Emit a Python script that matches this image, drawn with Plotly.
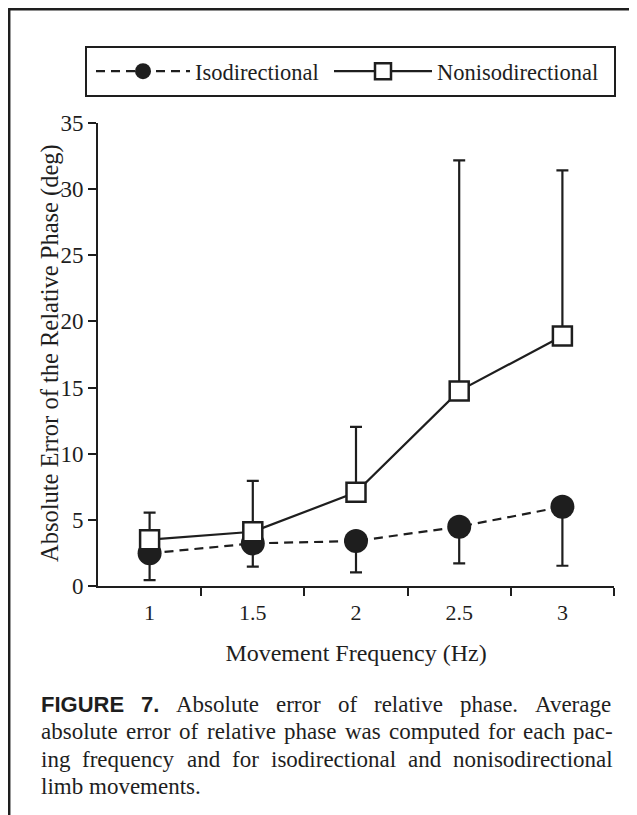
import plotly.graph_objects as go

# ---------------- data ----------------
freq = [1, 1.5, 2, 2.5, 3]
freq_labels = ["1", "1.5", "2", "2.5", "3"]
iso_mean = [2.47, 3.22, 3.40, 4.48, 5.99]
iso_err = [2.02, 1.76, 2.37, 2.77, 4.46]
noniso_mean = [3.50, 4.10, 7.08, 14.75, 18.90]
noniso_err = [2.04, 3.85, 4.95, 17.42, 12.52]
between_ticks = [1.25, 1.75, 2.25, 2.75, 3.25]
y_ticks = [0, 5, 10, 15, 20, 25, 30, 35]

x_title = "Movement Frequency (Hz)"
y_title = "Absolute Error of the Relative Phase (deg)"
caption_lines = [
    [("FIGURE", "b"), ("7.", "b"), ("Absolute", "r"), ("error", "r"), ("of", "r"),
     ("relative", "r"), ("phase.", "r"), ("Average", "r")],
    [(w, "r") for w in "absolute error of relative phase was computed for each pac-".split()],
    [(w, "r") for w in "ing frequency and for isodirectional and nonisodirectional".split()],
    [(w, "r") for w in "limb movements.".split()],
]

# ---------------- page geometry ----------------
# the html body has an 8px margin, so the figure is shifted by OFF on screen
OFF = 8
FW, FH = 637 - OFF, 815 - OFF
PLOT_L, PLOT_T, PLOT_R, PLOT_B = 98, 123, 614, 586     # screen coords of the plot area
L, T = PLOT_L - OFF, PLOT_T - OFF
R, B = FW - (PLOT_R - OFF), FH - (PLOT_B - OFF)
PW, PH = PLOT_R - PLOT_L, PLOT_B - PLOT_T
INK = "#1e1e1e"
SERIF = "Liberation Serif"
SANS = "Liberation Sans"


def px_x(sx):
    """screen x (px) -> paper x"""
    return (sx - PLOT_L) / PW


def px_y(sy):
    """screen y (px) -> paper y"""
    return 1 - (sy - PLOT_T) / PH


# glyph advance widths (per 1000 em) for justification of the caption
SERIF_W = {" ": 250, ".": 250, "-": 333, "A": 722, "a": 444, "b": 500, "c": 444, "d": 500,
           "e": 444, "f": 333, "g": 500, "h": 500, "i": 278, "l": 278, "m": 778, "n": 500,
           "o": 500, "p": 500, "q": 500, "r": 333, "s": 389, "t": 278, "u": 500, "v": 500,
           "w": 722, "y": 500}
SANSB_W = {" ": 278, ".": 278, "7": 556, "F": 611, "I": 278, "G": 778, "U": 722, "R": 722, "E": 667}

CAP_SIZE = 23
BOLD_SIZE = 22


def word_w(word, kind):
    if kind == "b":
        return sum(SANSB_W.get(ch, 556) for ch in word) * BOLD_SIZE / 1000.0
    return sum(SERIF_W.get(ch, 500) for ch in word) * CAP_SIZE / 1000.0


fig = go.Figure()

fig.add_trace(go.Scatter(
    x=freq, y=iso_mean, name="Isodirectional", mode="lines+markers", legend="legend",
    line=dict(color=INK, width=2.2, dash="9px,6px"),
    marker=dict(symbol="circle", size=24, color=INK, line=dict(width=0)),
    error_y=dict(type="data", symmetric=False, array=[0] * len(iso_err), arrayminus=iso_err,
                 color=INK, thickness=2.2, width=6),
))
fig.add_trace(go.Scatter(
    x=freq, y=noniso_mean, name="Nonisodirectional", mode="lines+markers", legend="legend2",
    line=dict(color=INK, width=2.2),
    marker=dict(symbol="square", size=19, color="white", line=dict(width=2.5, color=INK)),
    error_y=dict(type="data", symmetric=False, array=noniso_err, arrayminus=[0] * len(noniso_err),
                 color=INK, thickness=2.2, width=6),
))

annotations = []
CAP_LEFT, CAP_RIGHT = 41, 613
line_y = [704, 731.5, 759, 786.5]
for i, words in enumerate(caption_lines):
    widths = [word_w(w, k) for w, k in words]
    justify = i < len(caption_lines) - 1 and len(words) > 1
    if justify:
        gap = (CAP_RIGHT - CAP_LEFT - sum(widths)) / (len(words) - 1)
    else:
        gap = 250 * CAP_SIZE / 1000.0
    xpos = CAP_LEFT
    for (w, k), ww in zip(words, widths):
        annotations.append(dict(
            text=f"<b>{w}</b>" if k == "b" else w,
            x=px_x(xpos), y=px_y(line_y[i]), xref="paper", yref="paper",
            xanchor="left", yanchor="middle", showarrow=False,
            borderpad=0, borderwidth=0,
            font=dict(family=SANS if k == "b" else SERIF,
                      size=BOLD_SIZE if k == "b" else CAP_SIZE, color=INK),
        ))
        xpos += ww + gap

# y-axis title, placed as rotated text
annotations.append(dict(
    text=y_title, textangle=-90, x=px_x(50), y=px_y(353), xref="paper", yref="paper",
    xanchor="center", yanchor="middle", showarrow=False, borderpad=0, borderwidth=0,
    font=dict(family=SERIF, size=24.5, color=INK),
))

# page frame (top and left rules) and legend box
FRAME_X, FRAME_Y = OFF + 1.2, OFF + 1.2
shapes = [
    dict(type="line", xref="paper", yref="paper", x0=px_x(FRAME_X - 1), x1=px_x(637), y0=px_y(FRAME_Y),
         y1=px_y(FRAME_Y), line=dict(color=INK, width=2.5)),
    dict(type="line", xref="paper", yref="paper", x0=px_x(FRAME_X), x1=px_x(FRAME_X), y0=px_y(FRAME_Y - 1),
         y1=px_y(815), line=dict(color=INK, width=2.5)),
    dict(type="rect", xref="paper", yref="paper", x0=px_x(86), x1=px_x(615), y0=px_y(47), y1=px_y(96),
         line=dict(color=INK, width=2), fillcolor="rgba(0,0,0,0)"),
]

LEG_FONT = dict(family=SERIF, size=22.5, color=INK)
fig.update_layout(
    width=FW, height=FH,
    margin=dict(l=L, r=R, t=T, b=B, autoexpand=False),
    paper_bgcolor="white", plot_bgcolor="white",
    font=dict(family=SERIF, color=INK),
    showlegend=True,
    legend=dict(
        orientation="h", x=px_x(91), xanchor="left", y=px_y(71.5), yanchor="middle",
        borderwidth=0, bgcolor="rgba(0,0,0,0)", font=LEG_FONT, itemwidth=94,
    ),
    legend2=dict(
        orientation="h", x=px_x(329), xanchor="left", y=px_y(71.5), yanchor="middle",
        borderwidth=0, bgcolor="rgba(0,0,0,0)", font=LEG_FONT, itemwidth=98,
    ),
    xaxis=dict(
        range=[0.75, 3.25], showgrid=False, zeroline=False,
        showline=True, linecolor=INK, linewidth=2,
        tickmode="array", tickvals=freq, ticktext=freq_labels,
        ticks="outside", ticklen=8, tickcolor="rgba(0,0,0,0)",
        ticklabelstandoff=-2,
        tickfont=dict(family=SERIF, size=22, color=INK),
        minor=dict(tickmode="array", tickvals=between_ticks, ticks="outside",
                   ticklen=8, tickwidth=2, tickcolor=INK),
        title=dict(text=x_title, font=dict(family=SERIF, size=24, color=INK), standoff=20),
    ),
    yaxis=dict(
        range=[0, 35], showgrid=False, zeroline=False,
        showline=True, linecolor=INK, linewidth=2,
        tickmode="array", tickvals=y_ticks,
        ticks="outside", ticklen=8, tickwidth=2, tickcolor=INK,
        tickfont=dict(family=SERIF, size=23, color=INK),
    ),
    annotations=annotations,
    shapes=shapes,
)

fig.write_html("out.html")
